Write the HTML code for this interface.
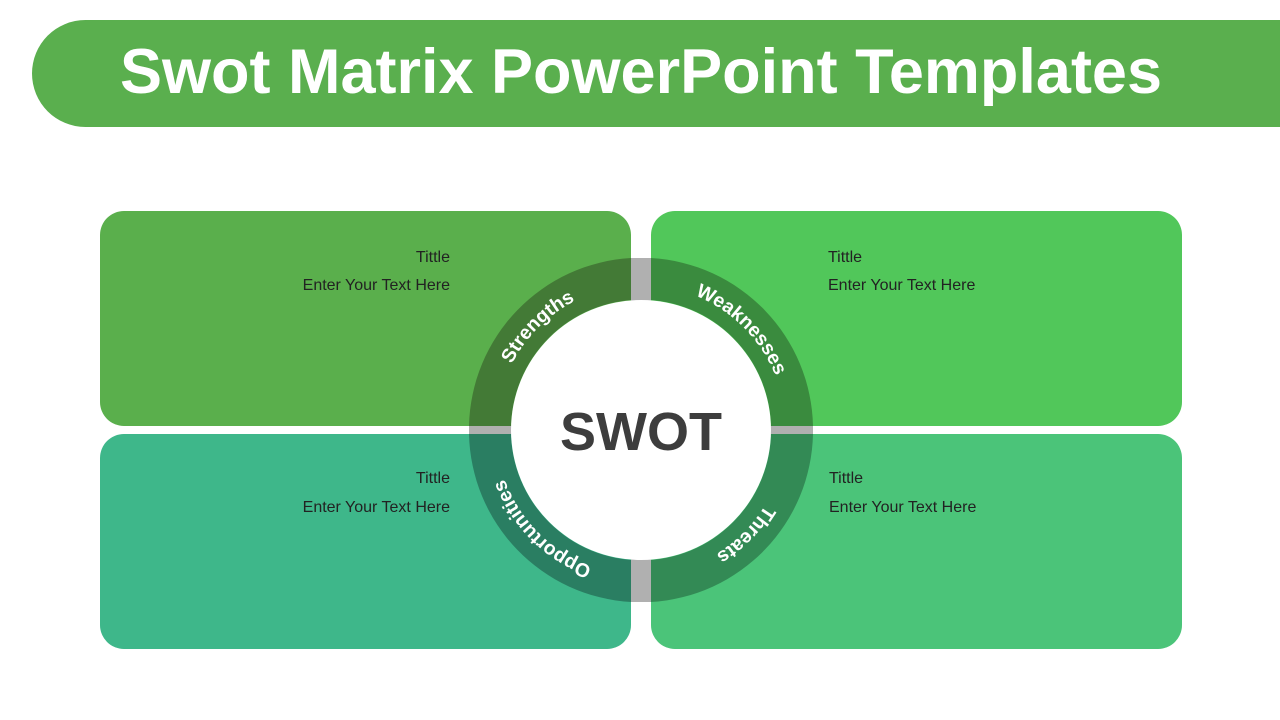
<!DOCTYPE html>
<html><head><meta charset="utf-8"><style>
body{margin:0;width:1280px;height:720px;background:#fff;position:relative;overflow:hidden;font-family:"Liberation Sans",Arial,sans-serif}
.bar{position:absolute;left:32px;top:20px;width:1300px;height:107px;background:#5aaf4e;border-radius:54px 0 0 54px}
.title{position:absolute;left:0;width:1282px;top:34px;text-align:center;color:#fff;font-weight:bold;font-size:63px;line-height:76px}
.box{position:absolute;width:531px;height:215px;border-radius:24px}
.t{position:absolute;font-size:16px;color:#222;line-height:20px}
.r{text-align:right}
</style></head><body>
<div class="bar"></div>
<div class="title">Swot Matrix PowerPoint Templates</div>
<div class="box" style="left:100px;top:211px;background:#5aaf4c"></div>
<div class="box" style="left:651px;top:211px;background:#51c75a"></div>
<div class="box" style="left:100px;top:434px;background:#3eb78a"></div>
<div class="box" style="left:651px;top:434px;background:#4bc479"></div>
<div class="t r" style="right:830px;top:248px">Tittle</div>
<div class="t r" style="right:830px;top:276px">Enter Your Text Here</div>
<div class="t" style="left:828px;top:248px">Tittle</div>
<div class="t" style="left:828px;top:276px">Enter Your Text Here</div>
<div class="t r" style="right:830px;top:469px">Tittle</div>
<div class="t r" style="right:830px;top:498px">Enter Your Text Here</div>
<div class="t" style="left:829px;top:469px">Tittle</div>
<div class="t" style="left:829px;top:498px">Enter Your Text Here</div>
<svg width="1280" height="720" style="position:absolute;left:0;top:0">
<defs><path id="c" d="M496,430 A145,145 0 1 1 786,430 A145,145 0 1 1 496,430"/></defs>
<rect x="631" y="258" width="20" height="344" fill="#b0b0b0"/>
<rect x="469" y="426" width="344" height="8" fill="#b0b0b0"/>
<path d="M469,426 A172,172 0 0 1 631,258 L631,300 A130,130 0 0 0 511,426Z" fill="#437a36"/>
<path d="M651,258 A172,172 0 0 1 813,426 L771,426 A130,130 0 0 0 651,300Z" fill="#3a8b3e"/>
<path d="M813,434 A172,172 0 0 1 651,602 L651,560 A130,130 0 0 0 771,434Z" fill="#338a55"/>
<path d="M631,602 A172,172 0 0 1 469,434 L511,434 A130,130 0 0 0 631,560Z" fill="#2a7e62"/>
<circle cx="641" cy="430" r="130" fill="#fff"/>
<g font-family="Liberation Sans,Arial,sans-serif" font-weight="bold" font-size="19.5" fill="#fff" text-anchor="middle">
<text><textPath href="#c" startOffset="12.5%">Strengths</textPath></text>
<text><textPath href="#c" startOffset="37.5%">Weaknesses</textPath></text>
<text><textPath href="#c" startOffset="62.5%">Threats</textPath></text>
<text><textPath href="#c" startOffset="87.5%">Opportunities</textPath></text>
</g>
<text x="641" y="450" text-anchor="middle" font-family="Liberation Sans,Arial,sans-serif" font-weight="bold" font-size="54" fill="#3d3d3d">SWOT</text>
</svg>
</body></html>
